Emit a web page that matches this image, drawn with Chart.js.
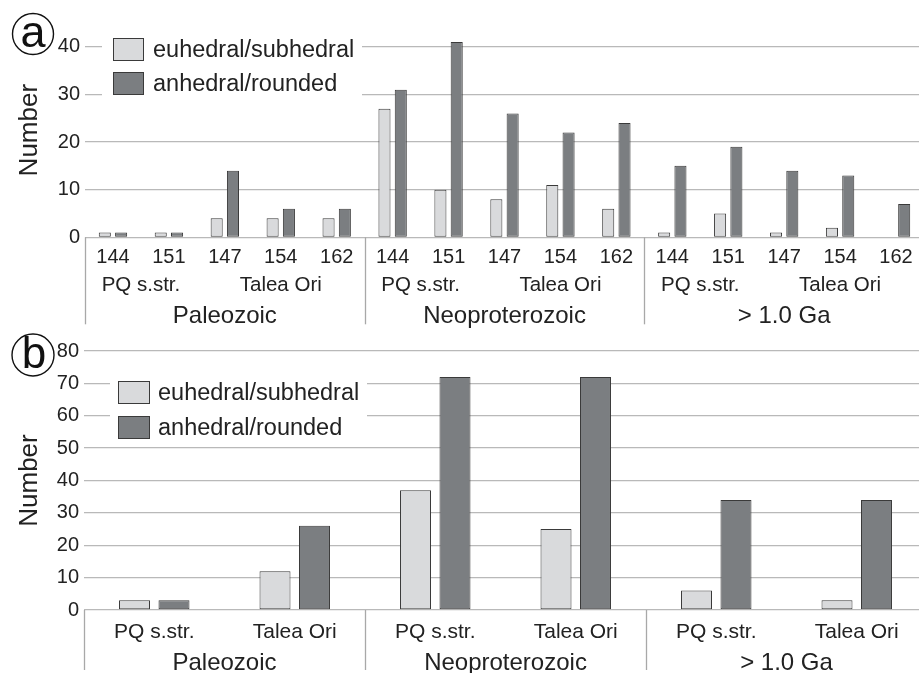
<!DOCTYPE html>
<html>
<head>
<meta charset="utf-8">
<script src="https://cdn.jsdelivr.net/npm/chart.js@4/dist/chart.umd.min.js"></script>
<style>
  html, body { margin: 0; padding: 0; background: #fff; overflow: hidden; width: 919px; height: 673px; }
  canvas { position: absolute; left: 0; }
  #chartA { top: 0; }
  #chartB { top: 330px; }
</style>
</head>
<body>
<canvas id="chartA" width="930" height="345"></canvas>
<canvas id="chartB" width="930" height="343"></canvas>
<script>
// ---- data ----
const seriesNames = ['euhedral/subhedral', 'anhedral/rounded'];
const eraNames = ['Paleozoic', 'Neoproterozoic', '> 1.0 Ga'];
const localityNames = ['PQ s.str.', 'Talea Ori'];
const samplesPerLocality = [2, 3];

// panel (a): individual samples
const sampleLabels = ['144', '151', '147', '154', '162',
                      '144', '151', '147', '154', '162',
                      '144', '151', '147', '154', '162'];
const euhedralA = [1, 1, 4, 4, 4,   27, 10, 8, 11, 6,   1, 5, 1, 2, 0];
const anhedralA = [1, 1, 14, 6, 6,  31, 41, 26, 22, 24, 15, 19, 14, 13, 7];

// panel (b): totals per locality
const localityLabels = ['PQ s.str.', 'Talea Ori', 'PQ s.str.', 'Talea Ori', 'PQ s.str.', 'Talea Ori'];
const euhedralB = [3, 12, 37, 25, 6, 3];
const anhedralB = [3, 26, 72, 72, 34, 34];

// ---- style ----
const FONT = "'Liberation Sans', Arial, Helvetica, sans-serif";
const TEXT = '#222';
const GRID = '#b9b9b9';
const SEP = '#a8a8a8';
const LIGHT = '#d9dadc';
const DARK = '#7b7e81';
const EDGE = '#3a3a3a';

Chart.defaults.font.family = FONT;
Chart.defaults.color = TEXT;
Chart.defaults.animation = false;

// hierarchical x-axis: locality row, era row, era separators
const groupAxis = {
  id: 'groupAxis',
  afterDraw(chart, args, o) {
    const { ctx, chartArea } = chart;
    const x = chart.scales.x;
    const y0 = chartArea.bottom;
    const n = chart.data.labels.length;
    const half = (x.getPixelForValue(1) - x.getPixelForValue(0)) / 2;
    const perEra = n / eraNames.length;
    ctx.save();
    ctx.fillStyle = TEXT;
    ctx.textAlign = 'center';
    ctx.textBaseline = 'middle';
    if (o.localityDy) {
      ctx.font = o.localityFont + 'px ' + FONT;
      let i = 0;
      for (let e = 0; e < eraNames.length; e++) {
        samplesPerLocality.forEach((span, k) => {
          const xc = (x.getPixelForValue(i) + x.getPixelForValue(i + span - 1)) / 2;
          ctx.fillText(localityNames[k], xc, y0 + o.localityDy);
          i += span;
        });
      }
    }
    ctx.font = o.eraFont + 'px ' + FONT;
    ctx.strokeStyle = SEP;
    ctx.lineWidth = 1.3;
    eraNames.forEach((name, k) => {
      const left = x.getPixelForValue(k * perEra) - half;
      const right = x.getPixelForValue((k + 1) * perEra - 1) + half;
      ctx.fillText(name, (left + right) / 2, y0 + o.eraDy);
      ctx.beginPath();
      ctx.moveTo(Math.round(left) + 0.5, y0);
      ctx.lineTo(Math.round(left) + 0.5, y0 + o.sepLen);
      ctx.stroke();
    });
    ctx.restore();
  }
};

// legend drawn on a white box inside the plot area
const boxLegend = {
  id: 'boxLegend',
  afterDatasetsDraw(chart, args, o) {
    const { ctx } = chart;
    ctx.save();
    ctx.fillStyle = '#fff';
    ctx.fillRect(o.box[0], o.box[1], o.box[2], o.box[3]);
    ctx.font = o.font + 'px ' + FONT;
    ctx.textAlign = 'left';
    ctx.textBaseline = 'middle';
    chart.data.datasets.forEach((ds, i) => {
      const sy = o.swatchY[i];
      ctx.fillStyle = ds.backgroundColor;
      ctx.fillRect(o.swatchX, sy, o.swatchW, o.swatchH);
      ctx.strokeStyle = EDGE;
      ctx.lineWidth = 1;
      ctx.strokeRect(o.swatchX + 0.5, sy + 0.5, o.swatchW - 1, o.swatchH - 1);
      ctx.fillStyle = TEXT;
      ctx.fillText(ds.label, o.textX, sy + o.swatchH / 2 + 1);
    });
    ctx.restore();
  }
};

// circled panel letter
const panelTag = {
  id: 'panelTag',
  afterDraw(chart, args, o) {
    const { ctx } = chart;
    ctx.save();
    ctx.strokeStyle = '#111';
    ctx.lineWidth = 1.4;
    ctx.beginPath();
    ctx.arc(o.cx, o.cy, o.r, 0, Math.PI * 2);
    ctx.stroke();
    ctx.fillStyle = '#111';
    ctx.font = o.size + 'px ' + FONT;
    ctx.textAlign = 'center';
    ctx.textBaseline = 'alphabetic';
    ctx.fillText(o.text, o.cx + (o.dx || 0), o.baseline);
    ctx.restore();
  }
};

function barSet(light, dark, catPct, barPct) {
  const common = { borderColor: EDGE, borderWidth: 1, borderSkipped: false,
                   categoryPercentage: catPct, barPercentage: barPct };
  return [
    Object.assign({ label: seriesNames[0], data: light, backgroundColor: LIGHT }, common),
    Object.assign({ label: seriesNames[1], data: dark, backgroundColor: DARK }, common)
  ];
}

function yAxis(max, step, labelEvery, width) {
  return {
    min: 0, max: max,
    afterFit(s) { s.width = width; },
    border: { display: false },
    grid: { color: GRID, lineWidth: 1.3, drawTicks: false },
    ticks: {
      stepSize: step, padding: 5, color: TEXT,
      font: { size: 20, family: FONT },
      callback: v => (v % labelEvery === 0 ? v : '')
    },
    title: { display: true, text: 'Number', color: TEXT,
             font: { size: 26, family: FONT }, padding: { top: 14, bottom: 0 } }
  };
}

// ---- panel (a) ----
new Chart(document.getElementById('chartA'), {
  type: 'bar',
  data: { labels: sampleLabels, datasets: barSet(euhedralA, anhedralA, 0.583, 0.74) },
  options: {
    responsive: false,
    devicePixelRatio: 1,
    layout: { padding: { top: 23, right: 6, left: 0, bottom: 0 } },
    plugins: {
      legend: { display: false },
      tooltip: { enabled: false },
      groupAxis: { localityDy: 48, localityFont: 20.5, eraDy: 79, eraFont: 24, sepLen: 87 },
      boxLegend: { box: [102, 30, 260, 75], swatchX: 113, swatchY: [38, 72], swatchW: 31, swatchH: 23,
                   textX: 153, font: 23.5 },
      panelTag: { cx: 33, cy: 34, r: 20.5, text: 'a', size: 45, baseline: 47 }
    },
    scales: {
      x: {
        afterFit(s) { s.height = 107.7; },
        border: { display: false },
        grid: { display: false, drawTicks: false },
        ticks: { padding: 8, color: TEXT, font: { size: 20, family: FONT }, maxRotation: 0, autoSkip: false }
      },
      y: yAxis(45, 5, 10, 85)
    }
  },
  plugins: [groupAxis, boxLegend, panelTag]
});

// ---- panel (b) ----
new Chart(document.getElementById('chartB'), {
  type: 'bar',
  data: { labels: localityLabels, datasets: barSet(euhedralB, anhedralB, 0.562, 0.785) },
  options: {
    responsive: false,
    devicePixelRatio: 1,
    layout: { padding: { top: 21, right: 3, left: 0, bottom: 0 } },
    plugins: {
      legend: { display: false },
      tooltip: { enabled: false },
      groupAxis: { eraDy: 53, eraFont: 24, sepLen: 60 },
      boxLegend: { box: [110, 43, 257, 74], swatchX: 118, swatchY: [51, 86], swatchW: 32, swatchH: 23,
                   textX: 158, font: 23.5 },
      panelTag: { cx: 33, cy: 25, r: 21, text: 'b', size: 44, dx: 1, baseline: 38 }
    },
    scales: {
      x: {
        afterFit(s) { s.height = 63; },
        border: { display: false },
        grid: { display: false, drawTicks: false },
        ticks: { padding: 9.5, color: TEXT, font: { size: 21, family: FONT }, maxRotation: 0, autoSkip: false }
      },
      y: yAxis(80, 10, 10, 84)
    }
  },
  plugins: [groupAxis, boxLegend, panelTag]
});
</script>
</body>
</html>
